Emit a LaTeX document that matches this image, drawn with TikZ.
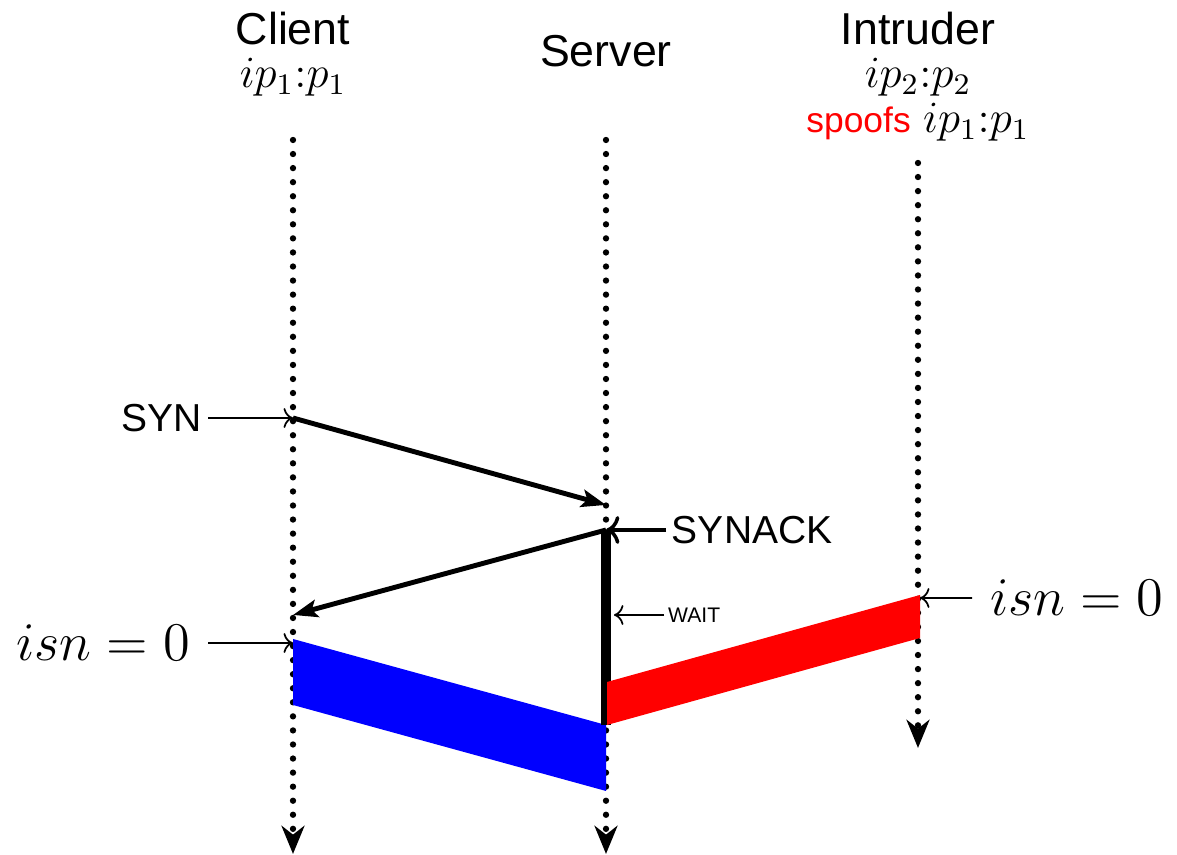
\documentclass[tikz,border=0pt]{standalone}
\usepackage[no-math]{fontspec}
\setsansfont{Liberation Sans}
\usepackage{tikz}
\usetikzlibrary{arrows.meta}

\begin{document}
\begin{tikzpicture}[lifeline/.style={line width=1.8pt, dash pattern=on 0pt off 4pt, line cap=round, -{Stealth[length=8pt,width=6.5pt,inset=2.5pt]}},
        msg/.style={line width=1.4pt, -{Stealth[length=7pt,width=5pt,inset=1.5pt]}},
        ptr/.style={->, line width=0.5pt},
        hdr/.style={font=\large\sffamily, scale=1.06, anchor=base, inner sep=0pt},
        tag/.style={font=\fontsize{11.1}{13}\selectfont\sffamily, inner sep=1.5pt},
        isn/.style={font=\Large, scale=1.076, inner sep=4.6pt}]
    \useasboundingbox (0,0) rectangle (11.77,8.55);

    \node[hdr] (client) at (2.93,8.10) {Client}; \node[hdr] (clientip) at (2.93,7.67) {$ip_1{:}p_1$};
    \node[hdr] (server) at (6.06,7.88) {Server};
    \node[hdr] (intruder) at (9.18,8.10) {Intruder}; \node[hdr] (intruderip) at (9.18,7.67) {$ip_2{:}p_2$};
    \node[hdr] (spoof) at (9.18,7.22) {{\color{red}\fontsize{9.5}{12}\selectfont spoofs} $ip_1{:}p_1$};

    \coordinate (c0) at (2.93,7.15); \coordinate (c1) at (2.93,0.01);
    \coordinate (s0) at (6.06,7.15); \coordinate (s1) at (6.06,0.01);
    \coordinate (i0) at (9.18,6.92); \coordinate (i1) at (9.18,1.07);
    \draw[lifeline] (c0) -- (c1); \draw[lifeline] (s0) -- (s1); \draw[lifeline] (i0) -- (i1);

    \coordinate (synA) at (2.93,4.37); \coordinate (synB) at (6.06,3.50);
    \coordinate (ackA) at (6.06,3.25); \coordinate (ackB) at (2.93,2.40);
    \coordinate (waitA) at (6.14,2.40); \coordinate (waitB) at (6.06,1.30);
    \coordinate (isnA) at (2.93,2.12); \coordinate (isnB) at (9.20,2.57);

    \draw[msg] (synA) -- (synB); \draw[msg] (ackA) -- (ackB);
    \fill[blue] (2.93,2.16) -- (6.06,1.30) -- (6.06,0.64) -- (2.93,1.50) -- cycle;
    \draw[line width=2.8pt] (ackA) -- (waitB);
    \fill[red] (6.07,1.73) -- (9.20,2.60) -- (9.20,2.17) -- (6.07,1.30) -- cycle;

    \node[tag, anchor=east] (syn) at (2.08,4.37) {SYN}; \draw[ptr] (syn) -- (synA);
    \node[tag, anchor=west] (synack) at (6.66,3.25) {SYNACK}; \draw[ptr, line width=1pt] (synack) -- (ackA);
    \node[font=\fontsize{6}{7}\selectfont\sffamily, anchor=west, inner sep=1pt] (wait) at (6.64,2.40) {WAIT}; \draw[ptr] (wait.west) -- (waitA);
    \node[isn, anchor=east] (isnL) at (2.08,2.12) {$isn=0$}; \draw[ptr] (isnL) -- (isnA);
    \node[isn, anchor=west] (isnR) at (9.72,2.57) {$isn=0$}; \draw[ptr] (isnR) -- (isnB);
\end{tikzpicture}
\end{document}
